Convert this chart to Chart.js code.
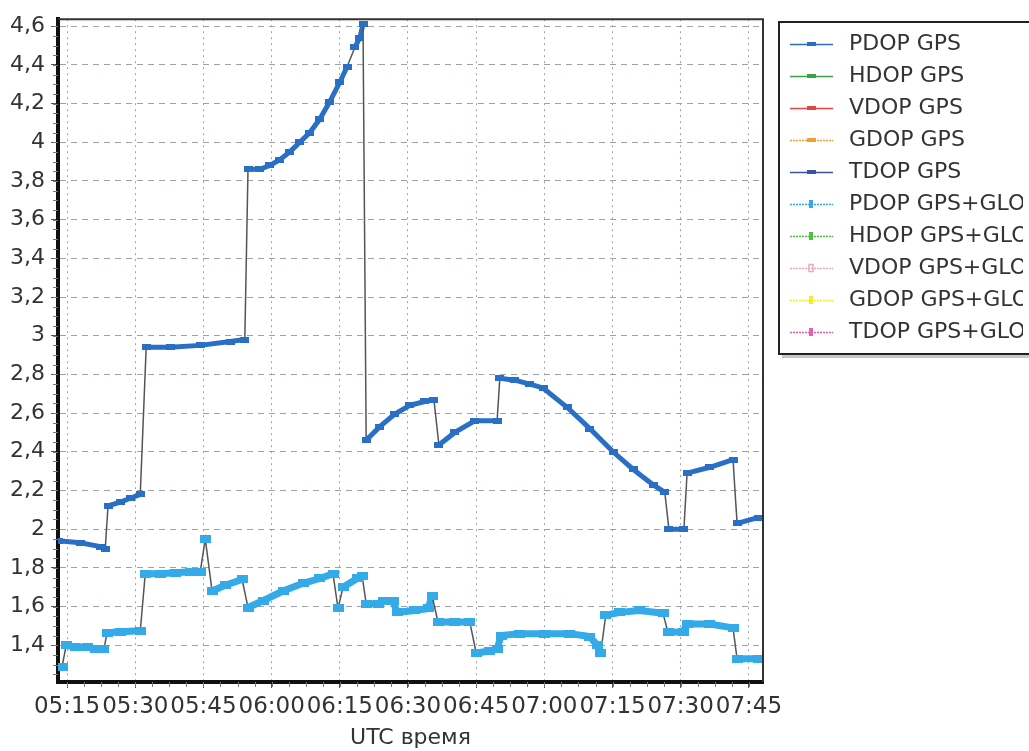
<!DOCTYPE html>
<html>
<head>
<meta charset="utf-8">
<title>DOP</title>
<script src="https://cdn.jsdelivr.net/npm/chart.js@4.4.1/dist/chart.umd.min.js"></script>
<style>
  html, body { margin: 0; padding: 0; background: #fff; }
  #wrap { width: 1029px; height: 751px; }
</style>
</head>
<body>
<div id="wrap"><canvas id="dopChart" width="1029" height="751"></canvas></div>
<script>
// time is in minutes since 05:00 UTC
let gpsTime = [313.0, 317.9, 322.3, 323.4, 324.0, 326.7, 328.9, 331.1, 332.4, 337.7, 344.3, 350.9, 354.1,
  354.8, 357.4, 359.6, 361.8, 364.0, 366.2, 368.4, 370.6, 372.8, 375.0, 376.6, 378.3, 379.4, 380.1,
  380.8, 383.8, 387.1, 390.4, 393.7, 395.7, 396.8, 400.3, 404.7, 409.6, 410.2, 413.5, 416.8, 419.7,
  425.0, 430.0, 435.1, 439.5, 443.9, 446.5, 447.4, 450.7, 451.4, 456.4, 461.5, 462.4, 467.0];
let gpsPdop = [1.94, 1.93, 1.91, 1.90, 2.12, 2.14, 2.16, 2.18, 2.94, 2.94, 2.95, 2.97, 2.98,
  3.86, 3.86, 3.88, 3.91, 3.95, 4.00, 4.05, 4.12, 4.21, 4.31, 4.39, 4.49, 4.54, 4.61,
  2.46, 2.53, 2.595, 2.64, 2.66, 2.67, 2.435, 2.50, 2.56, 2.56, 2.78, 2.77, 2.75, 2.73,
  2.63, 2.52, 2.40, 2.31, 2.23, 2.19, 2.00, 2.00, 2.29, 2.32, 2.36, 2.03, 2.06];

let gloTime = [313.9, 314.8, 316.8, 319.4, 321.2, 323.1, 323.8, 326.7, 331.1, 332.2, 335.5, 338.8,
  342.1, 344.3, 345.4, 346.9, 349.8, 353.5, 354.8, 358.1, 362.5, 366.9, 370.6, 373.5, 374.6, 375.7,
  378.8, 379.9, 380.8, 383.4, 384.5, 386.7, 387.6, 391.5, 394.4, 395.3, 396.6, 400.3, 403.6, 405.0,
  408.0, 409.6, 410.5, 414.6, 420.1, 425.6, 430.0, 431.6, 432.4, 433.5, 436.6, 441.0, 446.1, 447.2,
  450.5, 451.4, 456.4, 461.5, 462.4, 467.0];
let gloPdop = [1.29, 1.40, 1.39, 1.39, 1.38, 1.38, 1.465, 1.47, 1.475, 1.77, 1.77, 1.775,
  1.78, 1.78, 1.95, 1.68, 1.71, 1.74, 1.595, 1.63, 1.68, 1.72, 1.745, 1.77, 1.59, 1.70,
  1.745, 1.76, 1.615, 1.615, 1.63, 1.63, 1.57, 1.58, 1.59, 1.656, 1.52, 1.52, 1.52, 1.36,
  1.37, 1.38, 1.45, 1.46, 1.46, 1.46, 1.445, 1.40, 1.36, 1.555, 1.57, 1.58, 1.565, 1.466,
  1.47, 1.51, 1.51, 1.49, 1.33, 1.33];

let timeTicks = [315, 330, 345, 360, 375, 390, 405, 420, 435, 450, 465];
let timeLabels = ["05:15", "05:30", "05:45", "06:00", "06:15", "06:30", "06:45", "07:00", "07:15", "07:30", "07:45"];
let dopTicks = [1.4, 1.6, 1.8, 2, 2.2, 2.4, 2.6, 2.8, 3, 3.2, 3.4, 3.6, 3.8, 4, 4.2, 4.4, 4.6];

let seriesNames = ["PDOP GPS", "HDOP GPS", "VDOP GPS", "GDOP GPS", "TDOP GPS",
  "PDOP GPS+GLONASS", "HDOP GPS+GLONASS", "VDOP GPS+GLONASS", "GDOP GPS+GLONASS", "TDOP GPS+GLONASS"];
let seriesColours = ["#2a6fc6", "#3aa04a", "#e04848", "#f0a030", "#3c50a8",
  "#35aae8", "#50c040", "#f0a8c0", "#eeee30", "#e860a8"];

function makeMarker(w, h, colour) {
  let c = document.createElement("canvas");
  c.width = w;
  c.height = h;
  let g = c.getContext("2d");
  g.fillStyle = colour;
  g.fillRect(0, 0, w, h);
  return c;
}

// steep steps are drawn as a thin grey connector, like the original plot
function isJump(seg) {
  let dy = Math.abs(seg.p1.y - seg.p0.y);
  let dx = Math.abs(seg.p1.x - seg.p0.x);
  return dy > 14 && dy > 2.5 * dx;
}

function toPoints(xs, ys) {
  return xs.map(function (t, i) { return { x: t, y: ys[i] }; });
}

let datasets = seriesNames.map(function (name, i) {
  return { label: name, data: [], borderColor: seriesColours[i], pointRadius: 0 };
});

datasets[0] = {
  label: seriesNames[0],
  data: toPoints(gpsTime, gpsPdop),
  borderColor: seriesColours[0],
  borderWidth: 5,
  pointStyle: makeMarker(9, 6, seriesColours[0]),
  pointRadius: 4,
  segment: {
    borderColor: function (s) { return isJump(s) ? "#555" : seriesColours[0]; },
    borderWidth: function (s) { return isJump(s) ? 1.5 : 5; }
  }
};
datasets[5] = {
  label: seriesNames[5],
  data: toPoints(gloTime, gloPdop),
  borderColor: seriesColours[5],
  borderWidth: 7,
  pointStyle: makeMarker(11, 8, seriesColours[5]),
  pointRadius: 5,
  segment: {
    borderColor: function (s) { return isJump(s) ? "#555" : seriesColours[5]; },
    borderWidth: function (s) { return isJump(s) ? 1.5 : 7; }
  }
};

const frameAndLegend = {
  id: "frameAndLegend",
  beforeDatasetsDraw(chart) {
    let g = chart.ctx;
    let a = chart.chartArea;
    let xs = chart.scales.x;
    let ys = chart.scales.y;
    g.save();
    g.strokeStyle = "#777";
    g.lineWidth = 1;
    // minor ticks on the axes
    for (let v = 1.25; v < 4.64; v += 0.05) {
      let py = Math.round(ys.getPixelForValue(v)) + 0.5;
      g.beginPath();
      g.moveTo(a.left - 5, py);
      g.lineTo(a.left, py);
      g.stroke();
    }
    for (let t = 315; t < 468; t += 3.75) {
      let px = Math.round(xs.getPixelForValue(t)) + 0.5;
      g.beginPath();
      g.moveTo(px, a.bottom);
      g.lineTo(px, a.bottom + 5);
      g.stroke();
    }
    g.restore();
  },
  afterDraw(chart) {
    let g = chart.ctx;
    let a = chart.chartArea;
    g.save();
    // top and right frame lines
    g.strokeStyle = "#333";
    g.lineWidth = 2;
    g.beginPath();
    g.moveTo(a.left, a.top);
    g.lineTo(a.right, a.top);
    g.lineTo(a.right, a.bottom);
    g.stroke();

    // legend box
    g.fillStyle = "#c8c8c8";
    g.fillRect(782, 354, 260, 4);
    g.fillStyle = "#fff";
    g.fillRect(779, 22, 260, 332);
    g.strokeStyle = "#222";
    g.lineWidth = 2;
    g.strokeRect(779, 22, 260, 332);

    g.beginPath();
    g.rect(780, 23, 243, 330);
    g.clip();

    g.font = '22px "DejaVu Sans"';
    g.textBaseline = "middle";
    g.textAlign = "left";
    chart.data.datasets.forEach(function (ds, i) {
      let y = 44 + i * 32;
      let col = seriesColours[i];
      g.strokeStyle = col;
      g.lineWidth = 1.5;
      g.setLineDash(i >= 5 || i === 3 ? [2, 1] : []);
      g.beginPath();
      g.moveTo(790, y + 0.5);
      g.lineTo(833, y + 0.5);
      g.stroke();
      g.setLineDash([]);
      if (i < 5) {
        g.fillStyle = col;
        g.fillRect(807, y - 2, 9, 4);
      } else if (i === 7) {
        g.strokeStyle = col;
        g.lineWidth = 1.5;
        g.strokeRect(809, y - 3.5, 4, 7);
      } else {
        g.fillStyle = col;
        g.fillRect(809, y - 4, 4, 8);
      }
      g.fillStyle = "#333";
      g.fillText(ds.label, 849, y);
    });
    g.restore();
  }
};

Chart.defaults.font.family = '"DejaVu Sans"';
Chart.defaults.font.size = 22;
Chart.defaults.color = "#333";

let ctx = document.getElementById("dopChart").getContext("2d");
let dopChart = new Chart(ctx, {
  type: "line",
  data: { datasets: datasets },
  options: {
    responsive: false,
    animation: false,
    devicePixelRatio: 1,
    layout: { padding: { top: 17, right: 266, bottom: 0, left: 0 } },
    plugins: {
      legend: { display: false },
      tooltip: { enabled: false }
    },
    scales: {
      x: {
        type: "linear",
        min: 313,
        max: 468.1,
        afterBuildTicks: function (scale) {
          scale.ticks = timeTicks.map(function (v) { return { value: v }; });
        },
        afterFit: function (scale) { scale.height = 69; },
        ticks: {
          autoSkip: false,
          maxRotation: 0,
          padding: 5,
          font: { size: 23 },
          callback: function (v, i) { return timeLabels[i]; }
        },
        grid: {
          color: "#9aa3ad",
          lineWidth: 1,
          tickLength: 6,
          tickColor: "#555",
          tickBorderDash: []
        },
        border: { color: "#111", width: 4, dash: [2, 4] },
        title: {
          display: true,
          text: "UTC время",
          font: { size: 22 },
          padding: { top: 0, bottom: 0 }
        }
      },
      y: {
        min: 1.21,
        max: 4.636,
        afterBuildTicks: function (scale) {
          scale.ticks = dopTicks.map(function (v) { return { value: v }; });
        },
        afterFit: function (scale) { scale.width = 58; },
        ticks: {
          padding: 6,
          callback: function (v) { return String(Math.round(v * 10) / 10).replace(".", ","); }
        },
        grid: {
          color: "#9aa3ad",
          lineWidth: 1,
          tickLength: 7,
          tickColor: "#555",
          tickBorderDash: []
        },
        border: { color: "#111", width: 4, dash: [6, 5] }
      }
    }
  },
  plugins: [frameAndLegend]
});
</script>
</body>
</html>
